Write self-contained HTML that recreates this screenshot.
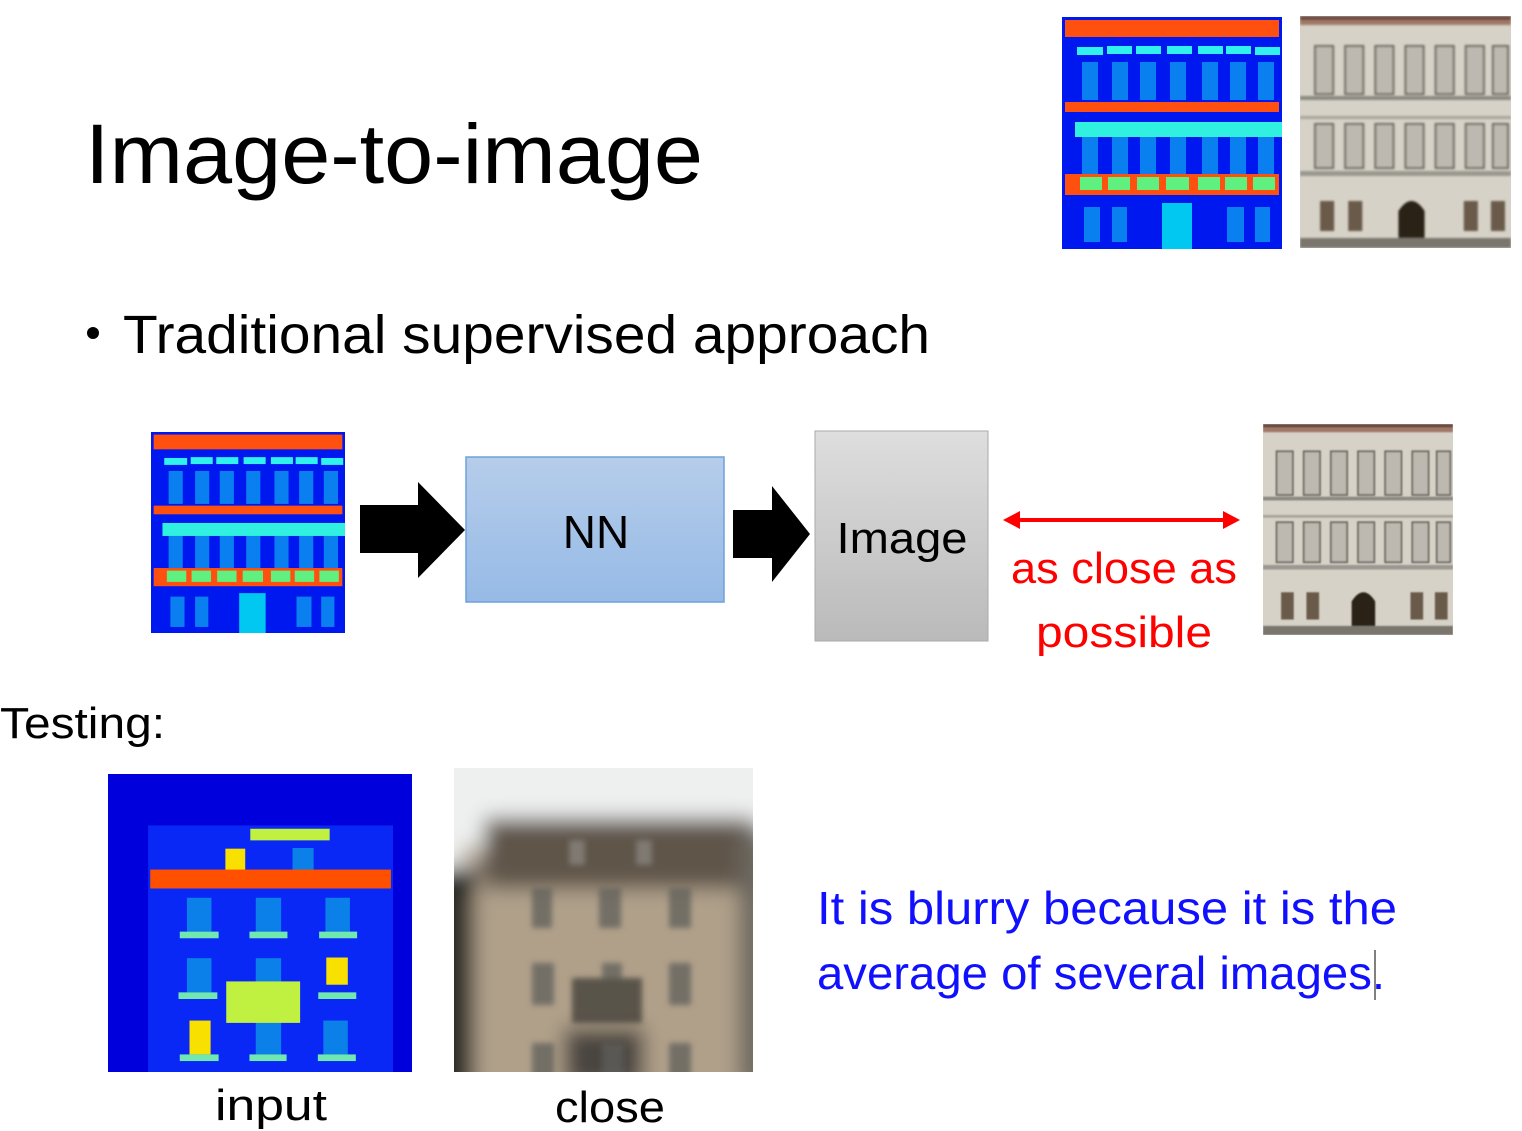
<!DOCTYPE html>
<html><head><meta charset="utf-8"><style>
html,body{margin:0;padding:0;background:#fff;width:1522px;height:1131px;overflow:hidden}
svg{display:block}
text{font-family:"Liberation Sans",sans-serif}
</style></head><body>
<svg width="1522" height="1131" viewBox="0 0 1522 1131" xmlns="http://www.w3.org/2000/svg">
<defs>
<symbol id="lab" viewBox="0 0 220 232" preserveAspectRatio="none">
<rect width="220" height="232" fill="#0018f0"/>
<rect x="3" y="3" width="214" height="17" fill="#ff5010"/>
<g fill="#30f0f0"><rect x="15" y="30" width="26" height="8"/><rect x="45" y="29" width="25" height="8"/><rect x="74" y="29" width="25" height="8"/><rect x="105" y="29" width="25" height="8"/><rect x="136" y="29" width="25" height="8"/><rect x="164" y="29" width="25" height="8"/><rect x="193" y="30" width="25" height="8"/></g>
<g fill="#0a80f0"><rect x="20" y="45" width="16" height="38"/><rect x="50" y="45" width="16" height="38"/><rect x="78" y="45" width="16" height="38"/><rect x="108" y="45" width="16" height="38"/><rect x="140" y="45" width="16" height="38"/><rect x="168" y="45" width="16" height="38"/><rect x="196" y="45" width="16" height="38"/>
<rect x="20" y="120" width="16" height="37"/><rect x="50" y="120" width="16" height="37"/><rect x="78" y="120" width="16" height="37"/><rect x="108" y="120" width="16" height="37"/><rect x="140" y="120" width="16" height="37"/><rect x="168" y="120" width="16" height="37"/><rect x="196" y="120" width="16" height="37"/>
<rect x="22" y="190" width="16" height="35"/><rect x="50" y="190" width="15" height="35"/><rect x="165" y="190" width="17" height="35"/><rect x="193" y="190" width="15" height="35"/></g>
<rect x="3" y="85" width="214" height="10" fill="#ff5010"/>
<rect x="13" y="105" width="207" height="15" fill="#30f0e0"/>
<rect x="3" y="157" width="214" height="21" fill="#ff5010"/>
<g fill="#60f080"><rect x="18" y="160" width="22" height="13"/><rect x="46" y="160" width="22" height="13"/><rect x="75" y="160" width="22" height="13"/><rect x="104" y="160" width="23" height="13"/><rect x="136" y="160" width="22" height="13"/><rect x="163" y="160" width="22" height="13"/><rect x="191" y="160" width="22" height="13"/></g>
<rect x="100" y="186" width="30" height="46" fill="#00c8f0"/>
</symbol>
<filter id="bl1"><feGaussianBlur stdDeviation="1"/></filter>
<filter id="bl3"><feGaussianBlur stdDeviation="3"/></filter>
<symbol id="pho" viewBox="0 0 210 232" preserveAspectRatio="none">
<rect width="210" height="232" fill="#d6d2c8"/>
<g filter="url(#bl1)">
<rect width="210" height="4" fill="#6a4a40"/>
<rect y="4" width="210" height="5" fill="#a07868"/>
<rect x="0" y="80" width="210" height="4" fill="#8a8880"/>
<rect x="0" y="100" width="210" height="3" fill="#a8a49a"/>
<rect x="0" y="155" width="210" height="5" fill="#9a9890"/>
<g fill="#bdb9b0" stroke="#6e6a62" stroke-width="2"><rect x="15" y="30" width="18" height="48"/><rect x="45" y="30" width="18" height="48"/><rect x="75" y="30" width="18" height="48"/><rect x="105" y="30" width="18" height="48"/><rect x="135" y="30" width="18" height="48"/><rect x="165" y="30" width="18" height="48"/><rect x="192" y="30" width="15" height="48"/>
<rect x="15" y="108" width="18" height="44"/><rect x="45" y="108" width="18" height="44"/><rect x="75" y="108" width="18" height="44"/><rect x="105" y="108" width="18" height="44"/><rect x="135" y="108" width="18" height="44"/><rect x="165" y="108" width="18" height="44"/><rect x="192" y="108" width="15" height="44"/></g>
<g fill="#6a5a4a"><rect x="20" y="185" width="14" height="30"/><rect x="48" y="185" width="14" height="30"/><rect x="163" y="185" width="14" height="30"/><rect x="190" y="185" width="14" height="30"/></g>
<path d="M98 232 V195 Q111 175 124 195 V232Z" fill="#2a2018"/>
<rect x="0" y="222" width="210" height="10" fill="#7a766e"/>
</g>
</symbol>
<linearGradient id="nn" x1="0" y1="0" x2="0" y2="1"><stop offset="0" stop-color="#b6cdea"/><stop offset="1" stop-color="#96bae6"/></linearGradient>
<linearGradient id="im" x1="0" y1="0" x2="0" y2="1"><stop offset="0" stop-color="#dedede"/><stop offset="1" stop-color="#bababa"/></linearGradient>
<filter id="bl2"><feGaussianBlur stdDeviation="10"/></filter>
</defs>

<use href="#lab" x="1062" y="17" width="220" height="232"/>
<use href="#pho" x="1300" y="16" width="211" height="232"/>

<text x="85" y="183" font-size="84" textLength="618" lengthAdjust="spacingAndGlyphs">Image-to-image</text>
<circle cx="93" cy="333" r="6" fill="#000"/>
<text x="123" y="353" font-size="54" textLength="807" lengthAdjust="spacingAndGlyphs">Traditional supervised approach</text>

<use href="#lab" x="151" y="432" width="194" height="201"/>
<polygon points="360,505 418,505 418,482 465,530 418,578 418,553 360,553" fill="#000"/>
<rect x="466" y="457" width="258" height="145" fill="url(#nn)" stroke="#6fa0dc" stroke-width="1.5"/>
<text x="596" y="548" font-size="46" text-anchor="middle">NN</text>
<polygon points="733,510 772,510 772,486 810,534 772,582 772,558 733,558" fill="#000"/>
<rect x="815" y="431" width="173" height="210" fill="url(#im)" stroke="#aaa"/>
<text x="902" y="553" font-size="44" text-anchor="middle" textLength="131" lengthAdjust="spacingAndGlyphs">Image</text>
<line x1="1015" y1="520" x2="1228" y2="520" stroke="#f00" stroke-width="4"/>
<polygon points="1003,520 1020,511 1020,529" fill="#f00"/>
<polygon points="1240,520 1223,511 1223,529" fill="#f00"/>
<text x="1124" y="583" font-size="44" fill="#f00" text-anchor="middle" textLength="226" lengthAdjust="spacingAndGlyphs">as close as</text>
<text x="1124" y="647" font-size="44" fill="#f00" text-anchor="middle" textLength="176" lengthAdjust="spacingAndGlyphs">possible</text>
<use href="#pho" x="1263" y="424" width="190" height="211"/>

<text x="0" y="738" font-size="44" textLength="165" lengthAdjust="spacingAndGlyphs">Testing:</text>

<svg x="108" y="774" width="304" height="298" viewBox="20 25 720 898" preserveAspectRatio="none">
<rect x="0" y="0" width="800" height="1000" fill="#0000dc"/>
<rect x="115" y="180" width="580" height="743" fill="#0a28f5"/>
<rect x="357" y="190" width="188" height="35" fill="#c0f040"/>
<rect x="298" y="250" width="47" height="72" fill="#f8e000"/>
<rect x="457" y="248" width="50" height="74" fill="#0a80e8"/>
<rect x="120" y="313" width="570" height="57" fill="#ff5000"/>
<g fill="#0a80e8"><rect x="207" y="398" width="58" height="102"/><rect x="370" y="398" width="60" height="102"/><rect x="535" y="398" width="58" height="102"/>
<rect x="207" y="580" width="58" height="103"/><rect x="370" y="580" width="60" height="103"/>
<rect x="370" y="768" width="60" height="102"/><rect x="530" y="768" width="58" height="102"/></g>
<rect x="537" y="578" width="51" height="82" fill="#f8e000"/>
<rect x="213" y="768" width="50" height="102" fill="#f8e000"/>
<g fill="#70e8b0"><rect x="190" y="500" width="92" height="20"/><rect x="355" y="500" width="90" height="20"/><rect x="520" y="500" width="90" height="20"/>
<rect x="187" y="683" width="92" height="20"/><rect x="518" y="683" width="90" height="20"/>
<rect x="190" y="870" width="92" height="20"/><rect x="355" y="870" width="88" height="20"/><rect x="517" y="870" width="90" height="20"/></g>
<rect x="300" y="650" width="175" height="125" fill="#c0f040"/>
</svg>

<svg x="454" y="768" width="299" height="304" viewBox="0 0 299 304">
<rect width="299" height="304" fill="#a89a88"/>
<g filter="url(#bl2)">
<rect x="-30" y="-30" width="360" height="110" fill="#eef0f0"/>
<rect x="-30" y="30" width="40" height="80" fill="#eef0f0"/>
<rect x="30" y="50" width="270" height="70" fill="#5e544a"/>
<rect x="-30" y="100" width="50" height="240" fill="#2a2a28"/>
<rect x="20" y="125" width="270" height="200" fill="#b0a08a"/>
<rect x="285" y="60" width="30" height="260" fill="#6a665e"/>
<rect x="110" y="260" width="80" height="60" fill="#4a4440"/>
</g>
<g fill="#5e5e5a" opacity="0.75" filter="url(#bl3)">
<rect x="78" y="120" width="20" height="40"/><rect x="145" y="120" width="22" height="40"/><rect x="215" y="120" width="22" height="40"/>
<rect x="78" y="195" width="22" height="42"/><rect x="148" y="195" width="20" height="42"/><rect x="215" y="195" width="22" height="42"/>
<rect x="78" y="275" width="22" height="40"/><rect x="148" y="275" width="22" height="40"/><rect x="215" y="275" width="22" height="40"/>
<rect x="118" y="210" width="70" height="45" fill="#3e3a36"/>
<rect x="115" y="72" width="16" height="25" fill="#8a8680"/><rect x="182" y="72" width="16" height="25" fill="#8a8680"/>
</g>
</svg>

<text x="271" y="1120" font-size="44" text-anchor="middle" textLength="112" lengthAdjust="spacingAndGlyphs">input</text>
<text x="610" y="1122" font-size="44" text-anchor="middle" textLength="110" lengthAdjust="spacingAndGlyphs">close</text>

<text x="817" y="924" font-size="46" fill="#1010ff" textLength="580" lengthAdjust="spacingAndGlyphs">It is blurry because it is the</text>
<text x="817" y="989" font-size="46" fill="#1010ff" textLength="568" lengthAdjust="spacingAndGlyphs">average of several images.</text>
<line x1="1375" y1="950" x2="1375" y2="1000" stroke="#000" stroke-width="1"/>
</svg>
</body></html>
